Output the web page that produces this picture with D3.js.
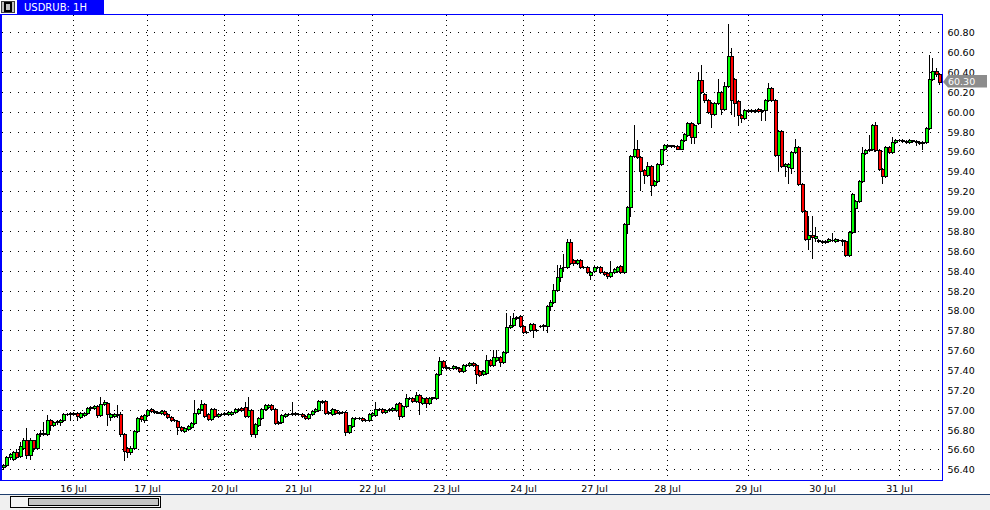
<!DOCTYPE html>
<html><head><meta charset="utf-8">
<script src="https://cdn.jsdelivr.net/npm/d3@7"></script>
<style>
html,body{margin:0;padding:0;background:#fff;}
svg{display:block;font-family:"DejaVu Sans",sans-serif;}
</style>
</head><body>
<svg id="chart" width="990" height="510"></svg>
<script>
const symbolTitle = "USDRUB: 1H";
const lastPrice = 60.30;

const open = [
56.42,56.44,56.52,56.50,56.57,56.53,56.61,56.69,56.54,56.69,
56.61,56.76,56.77,56.76,56.90,56.85,56.88,56.88,56.90,56.96,
56.97,56.96,56.97,56.93,56.95,56.97,57.03,57.02,57.04,56.95,
57.06,57.07,56.93,56.94,56.96,56.96,56.76,56.61,56.57,56.61,
56.79,56.94,56.90,56.95,57.01,56.99,56.97,56.97,56.99,56.96,
56.93,56.90,56.89,56.83,56.79,56.81,56.83,56.87,56.97,57.01,
57.06,56.96,56.91,57.01,56.94,56.96,56.96,56.96,56.96,56.98,
57.00,57.02,57.03,56.94,57.00,56.76,56.85,56.92,57.01,57.03,
57.05,57.01,56.88,56.88,56.94,56.96,56.96,56.97,56.96,56.96,
56.94,56.92,56.96,56.99,57.00,57.08,57.09,56.98,56.96,57.00,
56.97,56.98,56.98,56.78,56.84,56.92,56.92,56.92,56.90,56.90,
56.95,56.95,57.01,57.01,56.98,57.00,57.00,57.00,57.07,56.94,
57.04,57.12,57.12,57.09,57.15,57.07,57.12,57.07,57.12,57.12,
57.36,57.49,57.43,57.42,57.42,57.43,57.42,57.39,57.45,57.45,
57.47,57.45,57.39,57.36,57.37,57.50,57.45,57.50,57.53,57.48,
57.58,57.83,57.85,57.92,57.94,57.84,57.78,57.80,57.86,57.80,
57.84,57.85,57.84,58.04,58.08,58.21,58.34,58.44,58.44,58.69,
58.51,58.48,58.51,58.44,58.44,58.36,58.40,58.44,58.44,58.39,
58.38,58.35,58.39,58.40,58.45,58.39,58.87,59.04,59.55,59.63,
59.54,59.41,59.36,59.45,59.26,59.30,59.47,59.62,59.66,59.67,
59.66,59.66,59.63,59.72,59.77,59.89,59.75,59.89,60.32,60.18,
60.12,60.09,59.98,60.09,60.20,60.03,60.26,60.56,60.33,60.11,
59.97,59.94,60.01,60.02,60.01,60.03,60.01,60.02,60.12,60.24,
60.12,59.56,59.81,59.45,59.44,59.43,59.59,59.65,59.27,59.00,
58.72,58.76,58.73,58.71,58.70,58.69,58.70,58.71,58.70,58.71,
58.71,58.70,58.56,58.79,59.03,59.10,59.30,59.58,59.61,59.62,
59.87,59.61,59.42,59.35,59.65,59.59,59.70,59.72,59.72,59.71,
59.70,59.72,59.71,59.70,59.69,59.70,59.84,60.33,60.41,60.38];

const high = [
56.45,56.53,56.56,56.58,56.60,56.67,56.72,56.82,56.72,56.70,
56.77,56.80,56.88,56.95,56.91,56.89,56.90,56.91,56.97,56.97,
56.98,56.98,56.98,56.98,56.98,57.03,57.04,57.05,57.05,57.13,
57.10,57.08,56.97,56.97,57.05,56.98,56.77,56.62,56.63,56.80,
56.93,56.95,56.96,57.01,57.02,57.00,56.99,57.00,57.00,56.97,
56.94,56.91,56.90,56.84,56.83,56.85,56.88,57.10,57.02,57.10,
57.07,56.97,57.02,57.02,56.97,56.97,56.98,56.99,56.99,57.02,
57.02,57.03,57.08,57.13,57.01,56.87,56.93,57.02,57.06,57.06,
57.06,57.02,56.89,56.96,56.97,56.97,57.08,56.98,56.97,56.97,
56.95,56.97,57.00,57.02,57.10,57.10,57.10,56.99,57.02,57.01,
56.99,56.99,56.99,56.85,56.93,56.93,56.93,56.93,56.91,56.97,
56.98,57.08,57.02,57.02,57.01,57.02,57.03,57.07,57.08,57.05,
57.16,57.13,57.13,57.18,57.16,57.13,57.13,57.13,57.13,57.37,
57.53,57.50,57.44,57.43,57.45,57.44,57.43,57.46,57.46,57.48,
57.48,57.46,57.40,57.40,57.55,57.51,57.60,57.60,57.54,57.59,
57.97,57.94,57.97,57.94,57.95,57.85,57.79,57.87,57.87,57.81,
57.85,57.86,58.05,58.10,58.27,58.46,58.46,58.57,58.72,58.72,
58.52,58.52,58.52,58.45,58.45,58.40,58.45,58.45,58.45,58.40,
58.39,58.50,58.43,58.45,58.46,58.88,59.05,59.56,59.87,59.72,
59.55,59.42,59.49,59.46,59.31,59.48,59.63,59.68,59.68,59.67,
59.67,59.67,59.73,59.79,59.90,59.90,59.88,60.40,60.47,60.19,
60.13,60.10,60.10,60.33,60.21,60.30,60.88,60.64,60.34,60.12,
59.98,60.03,60.03,60.03,60.03,60.04,60.03,60.13,60.29,60.25,
60.13,59.82,59.82,59.48,59.48,59.60,59.73,59.66,59.28,59.01,
58.95,58.95,58.84,58.72,58.71,58.71,58.73,58.78,58.73,58.72,
58.72,58.71,58.80,59.18,59.11,59.31,59.65,59.62,59.77,59.88,
59.90,59.62,59.43,59.66,59.66,59.75,59.73,59.73,59.73,59.72,
59.73,59.72,59.72,59.71,59.71,59.85,60.57,60.54,60.44,60.39];

const low = [
56.40,56.43,56.50,56.49,56.51,56.52,56.60,56.51,56.50,56.58,
56.60,56.74,56.75,56.75,56.80,56.84,56.86,56.85,56.89,56.95,
56.90,56.95,56.90,56.92,56.94,56.96,57.01,57.01,56.93,56.94,
57.05,56.85,56.90,56.93,56.93,56.74,56.49,56.52,56.55,56.60,
56.78,56.89,56.88,56.94,56.98,56.97,56.97,56.96,56.95,56.92,
56.89,56.89,56.76,56.79,56.78,56.80,56.82,56.86,56.96,57.00,
56.93,56.90,56.90,56.93,56.93,56.95,56.95,56.95,56.95,56.97,
56.99,56.99,56.93,56.93,56.74,56.73,56.84,56.91,57.00,57.02,
57.00,56.86,56.86,56.87,56.93,56.95,56.95,56.95,56.95,56.93,
56.91,56.91,56.95,56.98,56.99,57.07,56.96,56.96,56.95,56.96,
56.96,56.97,56.745,56.77,56.83,56.91,56.91,56.89,56.89,56.89,
56.94,56.94,57.00,56.97,56.97,56.99,56.99,56.99,56.91,56.93,
57.03,57.11,57.08,57.08,56.96,57.06,57.03,57.06,57.11,57.11,
57.35,57.42,57.41,57.41,57.41,57.41,57.38,57.38,57.44,57.44,
57.44,57.27,57.34,57.35,57.36,57.44,57.44,57.49,57.44,57.47,
57.57,57.82,57.84,57.91,57.83,57.77,57.77,57.79,57.73,57.79,
57.83,57.80,57.78,58.00,58.07,58.20,58.30,58.40,58.43,58.47,
58.46,58.47,58.43,58.43,58.38,58.32,58.39,58.43,58.38,58.36,
58.33,58.34,58.38,58.39,58.38,58.38,58.78,58.95,59.54,59.53,
59.21,59.28,59.35,59.16,59.25,59.29,59.46,59.61,59.65,59.65,
59.65,59.62,59.62,59.71,59.76,59.69,59.69,59.88,60.19,60.10,
59.99,59.85,59.97,60.08,59.98,60.02,60.25,59.98,59.96,59.87,
59.90,59.93,60.00,60.00,60.00,60.00,59.92,59.92,60.11,60.11,
59.55,59.40,59.44,59.35,59.28,59.38,59.58,59.26,58.99,58.71,
58.62,58.53,58.70,58.69,58.68,58.68,58.69,58.70,58.69,58.70,
58.66,58.55,58.55,58.78,58.79,59.09,59.29,59.57,59.60,59.61,
59.60,59.41,59.28,59.34,59.58,59.58,59.69,59.71,59.70,59.69,
59.69,59.70,59.67,59.68,59.62,59.69,59.83,60.32,60.36,60.28];

const close = [
56.44,56.52,56.55,56.57,56.52,56.63,56.69,56.54,56.69,56.61,
56.76,56.77,56.76,56.90,56.85,56.88,56.89,56.90,56.96,56.96,
56.96,56.97,56.94,56.97,56.97,57.02,57.02,57.04,56.95,57.06,
57.08,56.96,56.96,56.96,56.95,56.76,56.58,56.57,56.61,56.79,
56.92,56.91,56.95,57.00,56.99,56.98,56.98,56.99,56.96,56.93,
56.90,56.90,56.83,56.80,56.82,56.84,56.87,56.97,57.01,57.06,
56.94,56.91,57.01,56.94,56.96,56.96,56.97,56.98,56.98,57.01,
57.01,57.00,56.94,57.00,56.76,56.86,56.92,57.01,57.05,57.05,
57.01,56.87,56.87,56.95,56.96,56.96,56.97,56.96,56.96,56.94,
56.92,56.96,56.99,57.01,57.09,57.09,56.97,56.97,57.01,56.97,
56.98,56.98,56.78,56.845,56.92,56.92,56.92,56.90,56.90,56.96,
56.97,57.01,57.01,56.98,57.00,57.01,57.02,57.06,56.94,57.04,
57.12,57.12,57.09,57.15,57.08,57.12,57.07,57.12,57.125,57.36,
57.49,57.43,57.42,57.42,57.44,57.42,57.39,57.45,57.45,57.47,
57.45,57.36,57.35,57.39,57.50,57.45,57.53,57.53,57.48,57.58,
57.83,57.85,57.92,57.93,57.84,57.78,57.78,57.86,57.80,57.80,
57.84,57.84,58.04,58.08,58.21,58.34,58.43,58.44,58.69,58.48,
58.48,58.51,58.44,58.44,58.39,58.39,58.44,58.44,58.39,58.37,
58.35,58.39,58.42,58.44,58.39,58.87,59.04,59.55,59.63,59.54,
59.40,59.36,59.45,59.26,59.30,59.47,59.62,59.67,59.67,59.66,
59.66,59.63,59.72,59.78,59.89,59.75,59.87,60.32,60.20,60.12,
60.00,59.98,60.09,60.20,60.03,60.26,60.56,60.12,60.09,59.97,
59.94,60.02,60.02,60.01,60.02,60.01,60.02,60.12,60.24,60.12,
59.56,59.81,59.45,59.47,59.47,59.59,59.65,59.27,59.00,58.72,
58.76,58.74,58.75,58.70,58.69,58.70,58.72,58.71,58.72,58.71,
58.70,58.56,58.79,59.17,59.10,59.30,59.58,59.61,59.62,59.87,
59.61,59.42,59.35,59.65,59.59,59.70,59.72,59.72,59.71,59.70,
59.72,59.71,59.70,59.69,59.70,59.84,60.33,60.41,60.38,60.30];

const priceTicks = [56.40,56.60,56.80,57.00,57.20,57.40,57.60,57.80,58.00,58.20,58.40,58.60,
                    58.80,59.00,59.20,59.40,59.60,59.80,60.00,60.20,60.40,60.60,60.80];
const dateTickIndex = [21, 43, 66, 88, 110, 132, 155, 176, 198, 222, 244, 267];
const dateTickLabels = ["16 Jul","17 Jul","20 Jul","21 Jul","22 Jul","23 Jul","24 Jul","27 Jul","28 Jul","29 Jul","30 Jul","31 Jul"];

const svg = d3.select("#chart");
const W = 990, H = 510;
const plot = {left: 0.5, top: 14.5, right: 942.5, bottom: 480.5};
const N = open.length;

const x = d3.scaleLinear().domain([0, N - 1]).range([3, 939.1]);
const y = d3.scaleLinear().domain([56.40, 60.80]).range([469.3, 32.3]);

svg.append("rect").attr("x",0).attr("y",0).attr("width",W).attr("height",H).attr("fill","#fff");

svg.append("defs").append("clipPath").attr("id","clip")
  .append("rect").attr("x",1).attr("y",15).attr("width",941).attr("height",465);

// grid
const grid = svg.append("g").attr("clip-path","url(#clip)");
grid.selectAll("line.hg").data(priceTicks).join("line")
  .attr("class","hg")
  .attr("x1", 2).attr("x2", 942)
  .attr("y1", d => Math.round(y(d)) + 0.5).attr("y2", d => Math.round(y(d)) + 0.5)
  .attr("stroke","#000").attr("stroke-width",1).attr("stroke-dasharray","1,7");
grid.selectAll("line.vg").data(dateTickIndex).join("line")
  .attr("class","vg")
  .attr("x1", d => Math.round(x(d)) + 0.5).attr("x2", d => Math.round(x(d)) + 0.5)
  .attr("y1", 15).attr("y2", 480)
  .attr("stroke","#000").attr("stroke-width",1).attr("stroke-dasharray","1,4");

// candles
const data = open.map((o, i) => ({i, o, h: high[i], l: low[i], c: close[i]}));
const cg = svg.append("g").attr("clip-path","url(#clip)");
cg.selectAll("line.wick").data(data).join("line")
  .attr("class","wick")
  .attr("x1", d => Math.round(x(d.i)) + 0.5).attr("x2", d => Math.round(x(d.i)) + 0.5)
  .attr("y1", d => Math.round(y(d.h))).attr("y2", d => Math.round(y(d.l)) + 1)
  .attr("stroke","#000").attr("stroke-width",1);

const bodies = data.filter(d => Math.abs(Math.round(y(d.o)) - Math.round(y(d.c))) >= 1);
const dojis = data.filter(d => Math.abs(Math.round(y(d.o)) - Math.round(y(d.c))) < 1);
cg.selectAll("rect.body").data(bodies).join("rect")
  .attr("class","body")
  .attr("x", d => Math.round(x(d.i)) - 0.5)
  .attr("width", 3)
  .attr("y", d => Math.round(y(Math.max(d.o, d.c))) + 0.5)
  .attr("height", d => Math.abs(Math.round(y(d.o)) - Math.round(y(d.c))))
  .attr("fill", d => d.c > d.o ? "#00ff00" : "#ff0000")
  .attr("stroke","#000").attr("stroke-width",1);
cg.selectAll("line.doji").data(dojis).join("line")
  .attr("class","doji")
  .attr("x1", d => Math.round(x(d.i)) - 1).attr("x2", d => Math.round(x(d.i)) + 3)
  .attr("y1", d => Math.round(y(d.c)) + 0.5).attr("y2", d => Math.round(y(d.c)) + 0.5)
  .attr("stroke","#000").attr("stroke-width",1);

// plot border
svg.append("rect")
  .attr("x", plot.left).attr("y", plot.top)
  .attr("width", plot.right - plot.left).attr("height", plot.bottom - plot.top)
  .attr("fill","none").attr("stroke","#0000ff").attr("stroke-width",1);
svg.append("line").attr("x1",1.5).attr("x2",1.5).attr("y1",14).attr("y2",481)
  .attr("stroke","#0000ff");

// price axis labels
svg.selectAll("text.pl").data(priceTicks).join("text")
  .attr("class","pl")
  .attr("x", 947.5).attr("y", d => Math.round(y(d)) + 4)
  .attr("font-size", 9.5).attr("fill","#000")
  .text(d => d.toFixed(2));

// date labels
svg.selectAll("text.dl").data(dateTickIndex).join("text")
  .attr("class","dl")
  .attr("x", d => Math.round(x(d)) + 0.5).attr("y", 492)
  .attr("text-anchor","middle")
  .attr("font-size", 9.5).attr("fill","#000")
  .text((d, k) => dateTickLabels[k]);

// current price marker
const py = Math.round(y(lastPrice)) + 0.5;
svg.append("path")
  .attr("d", `M943,${py-0.5} L948,${py-7.5} L987,${py-7.5} L987,${py+5} L948,${py+5} Z`)
  .attr("fill","#8c8c8c");
svg.append("text").attr("x",948).attr("y",py+2)
  .attr("font-size",9.5).attr("fill","#fff").text(lastPrice.toFixed(2));

// title bar
svg.append("rect").attr("x",1.5).attr("y",1.5).attr("width",13).attr("height",11)
  .attr("fill","#c0c0c0").attr("stroke","#404040");
svg.append("rect").attr("x",5).attr("y",3).attr("width",6).attr("height",8)
  .attr("fill","none").attr("stroke","#000").attr("stroke-width",2);
svg.append("rect").attr("x",17).attr("y",0).attr("width",87).attr("height",14)
  .attr("fill","#0000ff");
svg.append("text").attr("x",24).attr("y",11)
  .attr("font-size",10).attr("fill","#fff").text(symbolTitle);

// bottom scrollbar area
svg.append("rect").attr("x",0).attr("y",494).attr("width",W).attr("height",16).attr("fill","#f0f0f0");
svg.append("line").attr("x1",0).attr("x2",W).attr("y1",494.5).attr("y2",494.5).attr("stroke","#1f3f6f");
svg.append("rect").attr("x",10.5).attr("y",496.5).attr("width",150).attr("height",11)
  .attr("fill","#f4f4f4").attr("stroke","#000");
svg.append("rect").attr("x",28.5).attr("y",498.5).attr("width",130).attr("height",7)
  .attr("fill","#c4c4c4").attr("stroke","#000");
</script>
</body></html>
